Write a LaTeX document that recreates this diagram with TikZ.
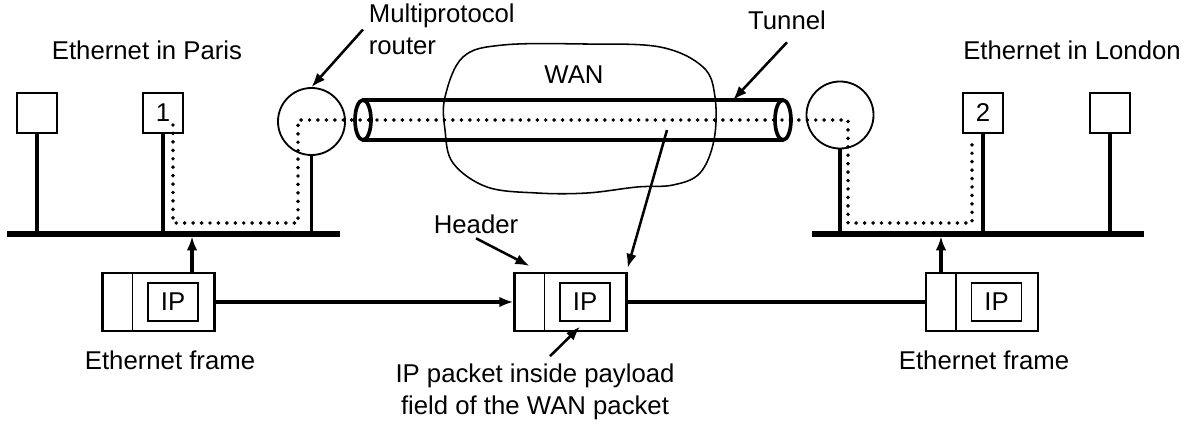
\documentclass[tikz,border=0pt]{standalone}
\usepackage{fontspec}
\setmainfont{Liberation Sans}
\usetikzlibrary{arrows.meta, positioning, calc}
\tikzset{
  every picture/.style={line width=1.2pt},
  lbl/.style={font=\fontsize{18.3}{22.5}\selectfont, inner sep=0pt, align=center},
  host/.style={draw, line width=1.3pt, minimum size=1cm, inner sep=0pt, lbl},
  router/.style={draw, circle, line width=1.3pt, minimum size=1.675cm, inner sep=0pt},
  frame/.style={draw, line width=1.5pt, minimum width=2.8cm, minimum height=1.45cm, inner sep=0pt},
  ipbox/.style={draw, line width=1pt, minimum width=1.25cm, minimum height=0.95cm, inner sep=0pt, lbl},
  bus/.style={line width=3.6pt},
  stem/.style={line width=2.7pt},
  tube/.style={line width=2.6pt},
  trail/.style={line width=2.8pt, line cap=round, dash pattern=on 0pt off 6pt},
  arrow/.style={-{Latex[length=10pt, width=7.5pt]}, line width=1.8pt},
  thickarrow/.style={-{Latex[length=10pt, width=7.5pt]}, line width=2.6pt},
}

\begin{document}
\begin{tikzpicture}[x=0.025cm, y=-0.025cm]
  \useasboundingbox (0,0) rectangle (1189,429);
  \draw[line width=1.1pt] plot[smooth cycle, tension=0.6] coordinates {(445,97) (463,57) (503,45) (585,44) (660,47) (703,67) (715,97) (714,140) (700,173) (673,185) (637,187) (587,193) (537,193) (487,187) (453,163) (445,130)};
  \node[lbl] (wan) at (574,75) {WAN};

  \node[host] (hA) at (37,113) {};
  \node[host] (h1) at (163,113) {1};
  \node[host] (h2) at (983,113) {2};
  \node[host] (hB) at (1110,113) {};
  \node[router] (rL) at (311.5,121.5) {};
  \node[router] (rR) at (840,115) {};

  \coordinate (parisW) at (7,234);
  \coordinate (parisE) at (340,234);
  \coordinate (londonW) at (812,234);
  \coordinate (londonE) at (1144,234);
  \draw[bus] (parisW) -- (parisE);
  \draw[bus] (londonW) -- (londonE);
  \foreach \h in {hA, h1, rL} \draw[stem] (\h.south) -- (\h.south |- parisW);
  \foreach \h in {rR, h2, hB} \draw[stem] (\h.south) -- (\h.south |- londonW);

  \coordinate (tubeL) at (363,120);
  \coordinate (tubeR) at (783,120);
  \draw[tube] (tubeL) ellipse [x radius=0.2cm, y radius=0.5cm];
  \draw[tube] (tubeR) ellipse [x radius=0.2cm, y radius=0.5cm];
  \draw[tube] ([yshift=0.5cm]tubeL) -- ([yshift=0.5cm]tubeR) ([yshift=-0.5cm]tubeL) -- ([yshift=-0.5cm]tubeR);

  \coordinate (src) at (173,125);
  \coordinate (dst) at (972,141);
  \draw[trail] (src) |- (298,223) |- (848,120) |- (dst |- 0,223) -- (dst);

  \node[frame] (fL) at (158.5,302) {};
  \node[frame] (fM) at (570.5,302) {};
  \node[frame] (fR) at (982,302) {};
  \foreach \f in {fL, fM, fR} {
    \draw[line width=1.3pt] ([xshift=0.775cm]\f.north west) -- ([xshift=0.775cm]\f.south west);
    \node[ipbox] (\f-ip) at ([xshift=0.3625cm]\f.center) {IP};
  }
  \draw[thickarrow] (fL.east) -- (fM.west);
  \draw[line width=2.6pt] (fM.east) -- (fR.west);
  \draw[thickarrow, shorten >=1.6pt] ([xshift=0.8375cm]fL.north) -- ([xshift=0.8375cm]fL.north |- parisE);
  \draw[thickarrow, shorten >=1.6pt] ([xshift=-1.025cm]fR.north) -- ([xshift=-1.025cm]fR.north |- londonW);

  \node[lbl] (paris) at (147,50) {Ethernet in Paris};
  \node[lbl] (london) at (1072,50) {Ethernet in London};
  \node[lbl, anchor=west, align=left] (mpr) at (368,29.5) {Multiprotocol\\router};
  \node[lbl] (tunnel) at (787,20) {Tunnel};
  \node[lbl] (header) at (476,224) {Header};
  \node[lbl] (capL) at (170,360) {Ethernet frame};
  \node[lbl] (capR) at (984,360) {Ethernet frame};
  \node[lbl] (payload) at (535,392) {IP packet inside payload\\field of the WAN packet};

  \coordinate (tunnelHit) at (733,100);
  \coordinate (wanHit) at (667,130);
  \draw[arrow] ([xshift=-0.125cm]mpr.west) -- (rL.north);
  \draw[arrow] ([yshift=-0.3cm]tunnel.south) -- (tunnelHit);
  \draw[arrow] ([yshift=-0.1cm]header.south) -- ([xshift=0.4cm, yshift=0.15cm]fM.north west);
  \draw[arrow] (wanHit) -- ([yshift=0.1cm]fM.north east);
  \draw[arrow] ([xshift=0.375cm, yshift=0.18cm]payload.north) -- ([xshift=-0.125cm, yshift=-0.125cm]fM-ip.south);
\end{tikzpicture}
\end{document}
